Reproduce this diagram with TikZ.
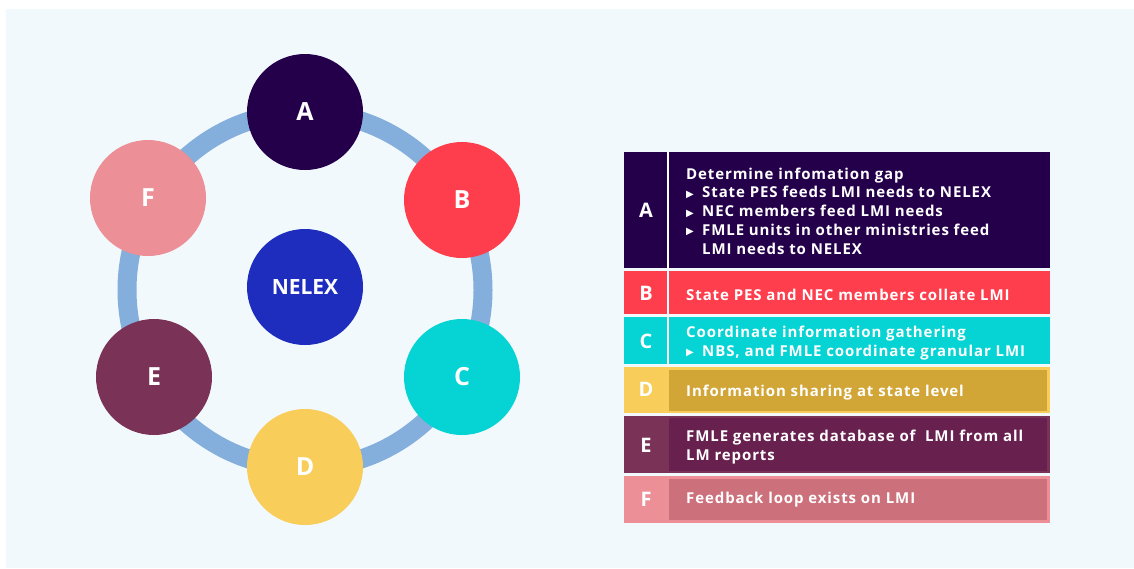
\documentclass[tikz,border=0pt]{standalone}
\usepackage{fontspec}
\setmainfont{Open Sans}
\newfontfamily\symfont{DejaVu Sans}
\definecolor{panel}{HTML}{F2F9FD}
\definecolor{ring}{HTML}{84AEDB}
\definecolor{cA}{HTML}{25004A}
\definecolor{cB}{HTML}{FF3E4D}
\definecolor{cC}{HTML}{06D3D3}
\definecolor{cD}{HTML}{F8CD59}
\definecolor{cE}{HTML}{7A3356}
\definecolor{cF}{HTML}{EC8F96}
\definecolor{dD}{HTML}{D1A637}
\definecolor{dE}{HTML}{68204F}
\definecolor{dF}{HTML}{CC707B}
\definecolor{cN}{HTML}{1F2DBE}
\newcommand{\bul}{\makebox[16pt][l]{\raisebox{0.6pt}{\symfont\fontsize{10}{10}\selectfont ▶}}}
\begin{document}
\begin{tikzpicture}[x=1pt,y=-1pt,
  ball/.style={circle,minimum size=116pt,inner sep=0,text=white,font=\fontsize{25}{25}\selectfont\bfseries},
  rowlet/.style={text=white,font=\fontsize{20}{20}\selectfont\bfseries,inner sep=0},
  rowtext/.style={text=white,anchor=west,align=left,inner sep=0,font=\fontsize{15}{18.7}\selectfont\bfseries\addfontfeatures{LetterSpace=6}},
  divider/.style={draw=white,line width=1.6pt}]
\useasboundingbox (0,0) rectangle (1134,568);
\fill[panel] (6,9) rectangle (1134,568);
% ring
\coordinate (ctr) at (305,290);
\draw[ring,line width=19pt] (ctr) circle[radius=178pt];
% circles
\node[ball,fill=cA] (A) at (305,112) {A};
\node[ball,fill=cB] (B) at (462,200) {B};
\node[ball,fill=cC] (C) at (462,377) {C};
\node[ball,fill=cD] (D) at (305,467) {D};
\node[ball,fill=cE] (E) at (154,377) {E};
\node[ball,fill=cF] (F) at (148,198) {F};
\node[ball,fill=cN,font=\fontsize{21}{21}\selectfont\bfseries] (N) at (305,287) {NELEX};
% table rows A-C
\fill[cA] (624,152) rectangle (1050,268);
\draw[divider] (668,152) -- (668,268);
\fill[cB] (624,271) rectangle (1050,314);
\draw[divider] (668,271) -- (668,314);
\fill[cC] (624,317) rectangle (1050,364);
\draw[divider] (668,317) -- (668,364);
% rows D-F
\fill[cD] (624,367) rectangle (1050,413);
\fill[dD] (669,370) rectangle (1047,411);
\fill[cE] (624,416) rectangle (1050,473);
\fill[dE] (669,418) rectangle (1047,471);
\fill[cF] (624,476) rectangle (1050,523);
\fill[dF] (669,479) rectangle (1047,520);
% letters
\node[rowlet] (lA) at (646,210) {A};
\node[rowlet] (lB) at (646,293) {B};
\node[rowlet] (lC) at (646,341) {C};
\node[rowlet] (lD) at (646,389) {D};
\node[rowlet] (lE) at (646,445) {E};
\node[rowlet] (lF) at (646,499) {F};
% texts
\node[rowtext] (tA) at (686,211) {Determine infomation gap\\
\bul State PES feeds LMI needs to NELEX\\
\bul NEC members feed LMI needs\\
\bul FMLE units in other ministries feed\\
\hspace*{16pt}LMI needs to NELEX};
\node[rowtext] (tB) at (686,295) {State PES and NEC members collate LMI};
\node[rowtext] (tC) at (686,343) {Coordinate information gathering\\
\bul NBS, and FMLE coordinate granular LMI};
\node[rowtext] (tD) at (686,393) {Information sharing at state level};
\node[rowtext] (tE) at (686,447) {FMLE generates database of\ \ LMI from all\\LM reports};
\node[rowtext] (tF) at (686,500) {Feedback loop exists on LMI};
\end{tikzpicture}
\end{document}
